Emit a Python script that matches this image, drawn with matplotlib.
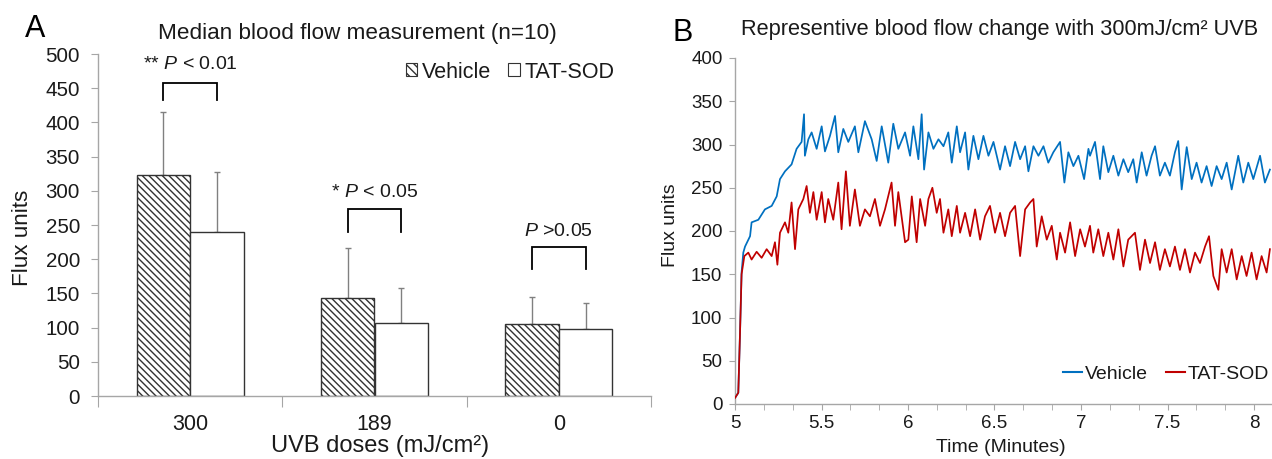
import numpy as np
import matplotlib
matplotlib.use("Agg")
import matplotlib.pyplot as plt
from matplotlib.patches import Patch
from matplotlib.lines import Line2D

plt.rcParams['font.family'] = ['Liberation Sans', 'DejaVu Sans']
plt.rcParams['mathtext.fontset'] = 'custom'
plt.rcParams['mathtext.rm'] = 'Liberation Sans'
plt.rcParams['mathtext.it'] = 'Liberation Sans:italic'
plt.rcParams['hatch.linewidth'] = 1.0

# ---------------- Panel A data ----------------
categories = ['300', '189', '0']
vehicle_median = [323, 143, 105]
vehicle_err = [92, 73, 40]
tat_median = [240, 107, 98]
tat_err = [87, 51, 38]
sig_labels = ['** $\\it{P}$ < 0.01', '* $\\it{P}$ < 0.05', '$\\it{P}$ >0.05']
bracket_low = [433, 240, 186]
bracket_high = [458, 273, 218]
sig_text_y = [484, 297, 240]

# ---------------- Panel B data ----------------
t_vehicle = [5.000, 5.019, 5.029, 5.038, 5.048, 5.058, 5.087, 5.096, 5.135, 5.173,
             5.212, 5.241, 5.260, 5.289, 5.327, 5.356, 5.385, 5.399, 5.404, 5.424,
             5.443, 5.472, 5.501, 5.520, 5.549, 5.578, 5.597, 5.626, 5.655, 5.693,
             5.713, 5.751, 5.790, 5.819, 5.848, 5.886, 5.915, 5.944, 5.983, 6.012,
             6.031, 6.060, 6.079, 6.093, 6.118, 6.147, 6.176, 6.205, 6.233, 6.253,
             6.282, 6.301, 6.330, 6.349, 6.378, 6.407, 6.436, 6.465, 6.494, 6.532,
             6.561, 6.590, 6.619, 6.648, 6.677, 6.696, 6.725, 6.754, 6.783, 6.811,
             6.840, 6.879, 6.904, 6.927, 6.956, 6.985, 7.018, 7.043, 7.052, 7.081,
             7.110, 7.129, 7.158, 7.187, 7.216, 7.245, 7.273, 7.302, 7.322, 7.351,
             7.379, 7.408, 7.428, 7.456, 7.485, 7.514, 7.543, 7.562, 7.582, 7.611,
             7.640, 7.668, 7.697, 7.726, 7.755, 7.784, 7.813, 7.842, 7.871, 7.909,
             7.938, 7.967, 7.996, 8.035, 8.063, 8.092]
f_vehicle = [7, 13, 82, 152, 175, 182, 194, 210, 213, 225,
             229, 240, 260, 269, 277, 295, 303, 335, 287, 306,
             314, 295, 321, 292, 310, 333, 291, 318, 303, 321,
             291, 327, 306, 281, 321, 279, 324, 295, 314, 287,
             321, 283, 335, 271, 314, 295, 306, 298, 314, 279,
             321, 291, 314, 271, 310, 283, 310, 287, 303, 271,
             298, 275, 303, 283, 298, 269, 298, 287, 298, 279,
             291, 303, 256, 291, 275, 287, 260, 295, 287, 303,
             260, 298, 268, 287, 264, 283, 268, 283, 256, 291,
             264, 287, 298, 264, 279, 264, 291, 304, 248, 297,
             260, 279, 256, 275, 252, 275, 260, 279, 248, 287,
             256, 279, 260, 287, 256, 271]

t_tat = [5.000, 5.019, 5.029, 5.038, 5.048, 5.054, 5.077, 5.096, 5.125, 5.154,
         5.183, 5.212, 5.231, 5.245, 5.260, 5.289, 5.308, 5.327, 5.347, 5.366,
         5.395, 5.414, 5.433, 5.453, 5.472, 5.501, 5.520, 5.539, 5.568, 5.597,
         5.616, 5.641, 5.664, 5.693, 5.722, 5.751, 5.780, 5.809, 5.838, 5.867,
         5.905, 5.925, 5.944, 5.983, 6.002, 6.022, 6.050, 6.070, 6.099, 6.118,
         6.141, 6.166, 6.185, 6.205, 6.233, 6.253, 6.282, 6.301, 6.330, 6.359,
         6.388, 6.417, 6.445, 6.474, 6.503, 6.532, 6.561, 6.590, 6.619, 6.648,
         6.677, 6.706, 6.725, 6.744, 6.773, 6.802, 6.831, 6.860, 6.879, 6.908,
         6.937, 6.966, 6.995, 7.023, 7.052, 7.071, 7.100, 7.129, 7.158, 7.187,
         7.216, 7.245, 7.273, 7.312, 7.341, 7.370, 7.399, 7.428, 7.456, 7.485,
         7.514, 7.543, 7.572, 7.601, 7.630, 7.659, 7.688, 7.717, 7.740, 7.765,
         7.794, 7.813, 7.842, 7.871, 7.900, 7.929, 7.957, 7.986, 8.015, 8.044,
         8.073, 8.092]
f_tat = [7, 13, 82, 150, 163, 171, 175, 167, 176, 169,
         179, 171, 187, 161, 198, 210, 198, 233, 179, 225,
         237, 252, 221, 245, 213, 245, 210, 237, 213, 256,
         202, 269, 206, 248, 206, 225, 217, 237, 206, 225,
         256, 206, 245, 187, 190, 240, 187, 237, 206, 237,
         250, 221, 237, 198, 225, 194, 229, 198, 221, 194,
         225, 190, 217, 229, 198, 221, 194, 221, 229, 171,
         225, 233, 237, 182, 217, 190, 206, 167, 198, 175,
         210, 171, 202, 182, 206, 175, 202, 171, 198, 167,
         202, 159, 190, 198, 155, 190, 163, 187, 155, 179,
         159, 182, 155, 179, 152, 175, 163, 182, 194, 148,
         132, 179, 152, 179, 144, 171, 148, 175, 144, 171,
         152, 179]

# ---------------- Figure ----------------
W, H = 1272, 459
fig = plt.figure(figsize=(W / 100, H / 100), dpi=100)

def fx(px):
    return px / W

def fy(py):
    return 1 - py / H

spine_col = '#a6a6a6'
txt_col = '#1a1a1a'

# ---------- Panel A ----------
axA = fig.add_axes([fx(98), fy(396), fx(651) - fx(98), fy(54) - fy(396)])
x = np.arange(len(categories))
bw = 0.29
axA.bar(x - bw / 2, vehicle_median, bw, facecolor='white', edgecolor='#333333',
        hatch='\\\\\\\\\\', linewidth=1.0, zorder=2)
axA.bar(x + bw / 2, tat_median, bw, facecolor='white', edgecolor='#333333',
        linewidth=1.0, zorder=2)
axA.errorbar(x - bw / 2, vehicle_median, yerr=[np.zeros(3), vehicle_err], fmt='none',
             ecolor='#808080', elinewidth=1.0, capsize=2.5, capthick=1.0, zorder=1)
axA.errorbar(x + bw / 2, tat_median, yerr=[np.zeros(3), tat_err], fmt='none',
             ecolor='#808080', elinewidth=1.0, capsize=2.5, capthick=1.0, zorder=1)

for i in range(len(categories)):
    xl, xr = x[i] - bw / 2, x[i] + bw / 2
    axA.plot([xl, xl, xr, xr], [bracket_low[i], bracket_high[i], bracket_high[i], bracket_low[i]],
             color='black', lw=1.3, solid_joinstyle='miter', clip_on=False)
    axA.text(x[i], sig_text_y[i], sig_labels[i], ha='center', va='center',
             fontsize=14, color=txt_col)

axA.set_xlim(-0.5, 2.5)
axA.set_ylim(0, 500)
axA.set_yticks(np.arange(0, 501, 50))
axA.set_xticks([-0.5, 0.5, 1.5, 2.5])
axA.set_xticklabels([])
axA.set_xticks(x, minor=True)
axA.set_xticklabels(categories, minor=True)
axA.tick_params(axis='x', which='major', length=8, color=spine_col, direction='out')
axA.tick_params(axis='x', which='minor', length=0, pad=13, labelsize=15.5, labelcolor=txt_col)
axA.tick_params(axis='y', length=5, color=spine_col, labelsize=14.8, labelcolor=txt_col, pad=8)
for s in ['top', 'right']:
    axA.spines[s].set_visible(False)
for s in ['left', 'bottom']:
    axA.spines[s].set_color(spine_col)
    axA.spines[s].set_linewidth(1.0)

legA = axA.legend(handles=[Patch(facecolor='white', edgecolor='#333333', hatch='\\\\\\\\', lw=0.8),
                           Patch(facecolor='white', edgecolor='#333333', lw=0.8)],
                  labels=['Vehicle', 'TAT-SOD'], ncol=2, frameon=False, fontsize=15.5,
                  handlelength=0.55, handleheight=0.55, handletextpad=0.2, columnspacing=0.8,
                  loc='center', bbox_to_anchor=(fx(510), fy(72)), bbox_transform=fig.transFigure)
for t in legA.get_texts():
    t.set_color(txt_col)

fig.text(fx(357), fy(33), 'Median blood flow measurement (n=10)', ha='center', va='center',
         fontsize=16.2, color=txt_col)
fig.text(fx(23), fy(238), 'Flux units', ha='center', va='center', rotation=90,
         fontsize=16.2, color=txt_col)
fig.text(fx(380), fy(446), 'UVB doses (mJ/cm²)', ha='center', va='center',
         fontsize=17, color=txt_col)
fig.text(fx(35), fy(29), 'A', ha='center', va='center', fontsize=22, color='black')

# ---------- Panel B ----------
axB = fig.add_axes([fx(735), fy(404), fx(1272) - fx(735), fy(58) - fy(404)])
axB.plot(t_vehicle, f_vehicle, color='#0070c0', lw=1.25, label='Vehicle', zorder=2)
axB.plot(t_tat, f_tat, color='#c00000', lw=1.25, label='TAT-SOD', zorder=3)
axB.set_xlim(5, 5 + 537 / 173)
axB.set_ylim(0, 400)
axB.set_yticks(np.arange(0, 401, 50))
axB.set_xticks(np.arange(5, 8.01, 0.5))
axB.set_xticklabels(['5', '5.5', '6', '6.5', '7', '7.5', '8'])
axB.set_xticks(5 + np.arange(0, 19) / 6, minor=True)
axB.tick_params(axis='x', which='both', length=4, color=spine_col, labelsize=13.5,
                labelcolor=txt_col, pad=4)
axB.tick_params(axis='y', length=4, color=spine_col, labelsize=13.5, labelcolor=txt_col, pad=5)
for s in ['top', 'right']:
    axB.spines[s].set_visible(False)
for s in ['left', 'bottom']:
    axB.spines[s].set_color(spine_col)
    axB.spines[s].set_linewidth(1.0)

legB = axB.legend(handles=[Line2D([], [], color='#0070c0', lw=1.5),
                           Line2D([], [], color='#c00000', lw=1.5)],
                  labels=['Vehicle', 'TAT-SOD'], ncol=2, frameon=False, fontsize=14,
                  handlelength=1.0, handletextpad=0.15, columnspacing=0.9,
                  loc='center', bbox_to_anchor=(fx(1166), fy(374)), bbox_transform=fig.transFigure)
for t in legB.get_texts():
    t.set_color(txt_col)

fig.text(fx(1000), fy(30), 'Representive blood flow change with 300mJ/cm² UVB', ha='center',
         va='center', fontsize=15.7, color=txt_col)
fig.text(fx(670), fy(225), 'Flux units', ha='center', va='center', rotation=90,
         fontsize=14, color=txt_col)
fig.text(fx(1001), fy(448), 'Time (Minutes)', ha='center', va='center',
         fontsize=14, color=txt_col)
fig.text(fx(683), fy(33), 'B', ha='center', va='center', fontsize=22, color='black')

fig.savefig('out.png', dpi=100, facecolor='white')
